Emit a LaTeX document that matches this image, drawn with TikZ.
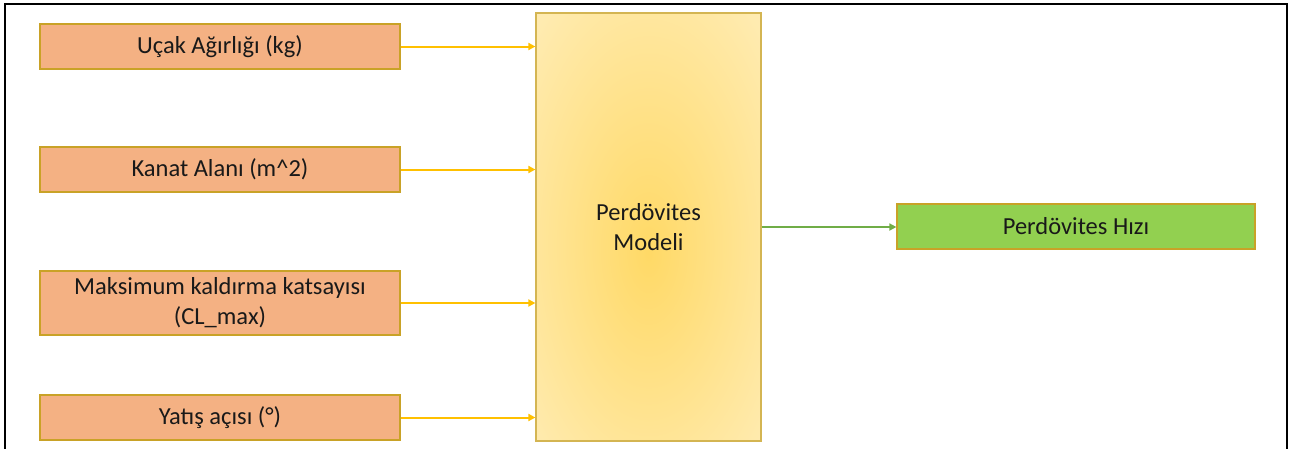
\documentclass[tikz,border=0pt]{standalone}
\usepackage{fontspec}
\setmainfont{Carlito}
\usetikzlibrary{arrows.meta}
\definecolor{inputfill}{HTML}{F4B183}
\definecolor{boxedge}{HTML}{C9A227}
\definecolor{feedline}{HTML}{FFC000}
\definecolor{outfill}{HTML}{92D050}
\definecolor{outline}{HTML}{70AD47}
\definecolor{glowin}{HTML}{FFD966}
\definecolor{glowmid}{HTML}{FFEBB0}
\definecolor{glowout}{HTML}{FFF5D8}
\pgfdeclareradialshading{modelglow}{\pgfpoint{0bp}{-3bp}}{color(0bp)=(glowin); color(35bp)=(glowmid); color(70bp)=(glowout)}
\begin{document}
\begin{tikzpicture}[x=1pt,y=-1pt,
  font=\fontsize{24.5}{30}\selectfont,
  inbox/.style={draw=boxedge,line width=1.2pt,fill=inputfill,text=black!90,
    minimum width=360pt,minimum height=45pt,inner sep=0pt,align=center},
  feed/.style={draw=feedline,line width=2pt,-{Triangle[length=7pt,width=7pt]}}]
\useasboundingbox (0,0) rectangle (1292,448);
\draw[line width=2pt] (5,470) -- (5,4) -- (1287,4) -- (1287,470);
% inputs
\node[inbox] (weight) at (220,46.5) {Uçak Ağırlığı (kg)};
\node[inbox] (wing) at (220,169.5) {Kanat Alanı (m\string^2)};
\node[inbox,minimum height=64pt] (clmax) at (220,303) {Maksimum kaldırma katsayısı\\(CL\_max)};
\node[inbox] (bank) at (220,417.5) {Yatış açısı (°)};
% model and result
\node[draw=boxedge!80,line width=1.2pt,shade,shading=modelglow,text=black!90,
  minimum width=225pt,minimum height=428pt,align=center] (model) at (648.5,227) {Perdövites\\Modeli};
\node[draw=boxedge,line width=1.2pt,fill=outfill,text=black!90,
  minimum width=358pt,minimum height=45pt,inner sep=0pt] (speed) at (1076,226.5) {Perdövites Hızı};
\foreach \n in {weight,wing,clmax,bank}
  \draw[feed] (\n.east) -- (\n.east -| model.west);
\draw[draw=outline,line width=1.6pt,-{Triangle[length=7pt,width=7pt]}] (model.east) -- (model.east -| speed.west);
\end{tikzpicture}
\end{document}
